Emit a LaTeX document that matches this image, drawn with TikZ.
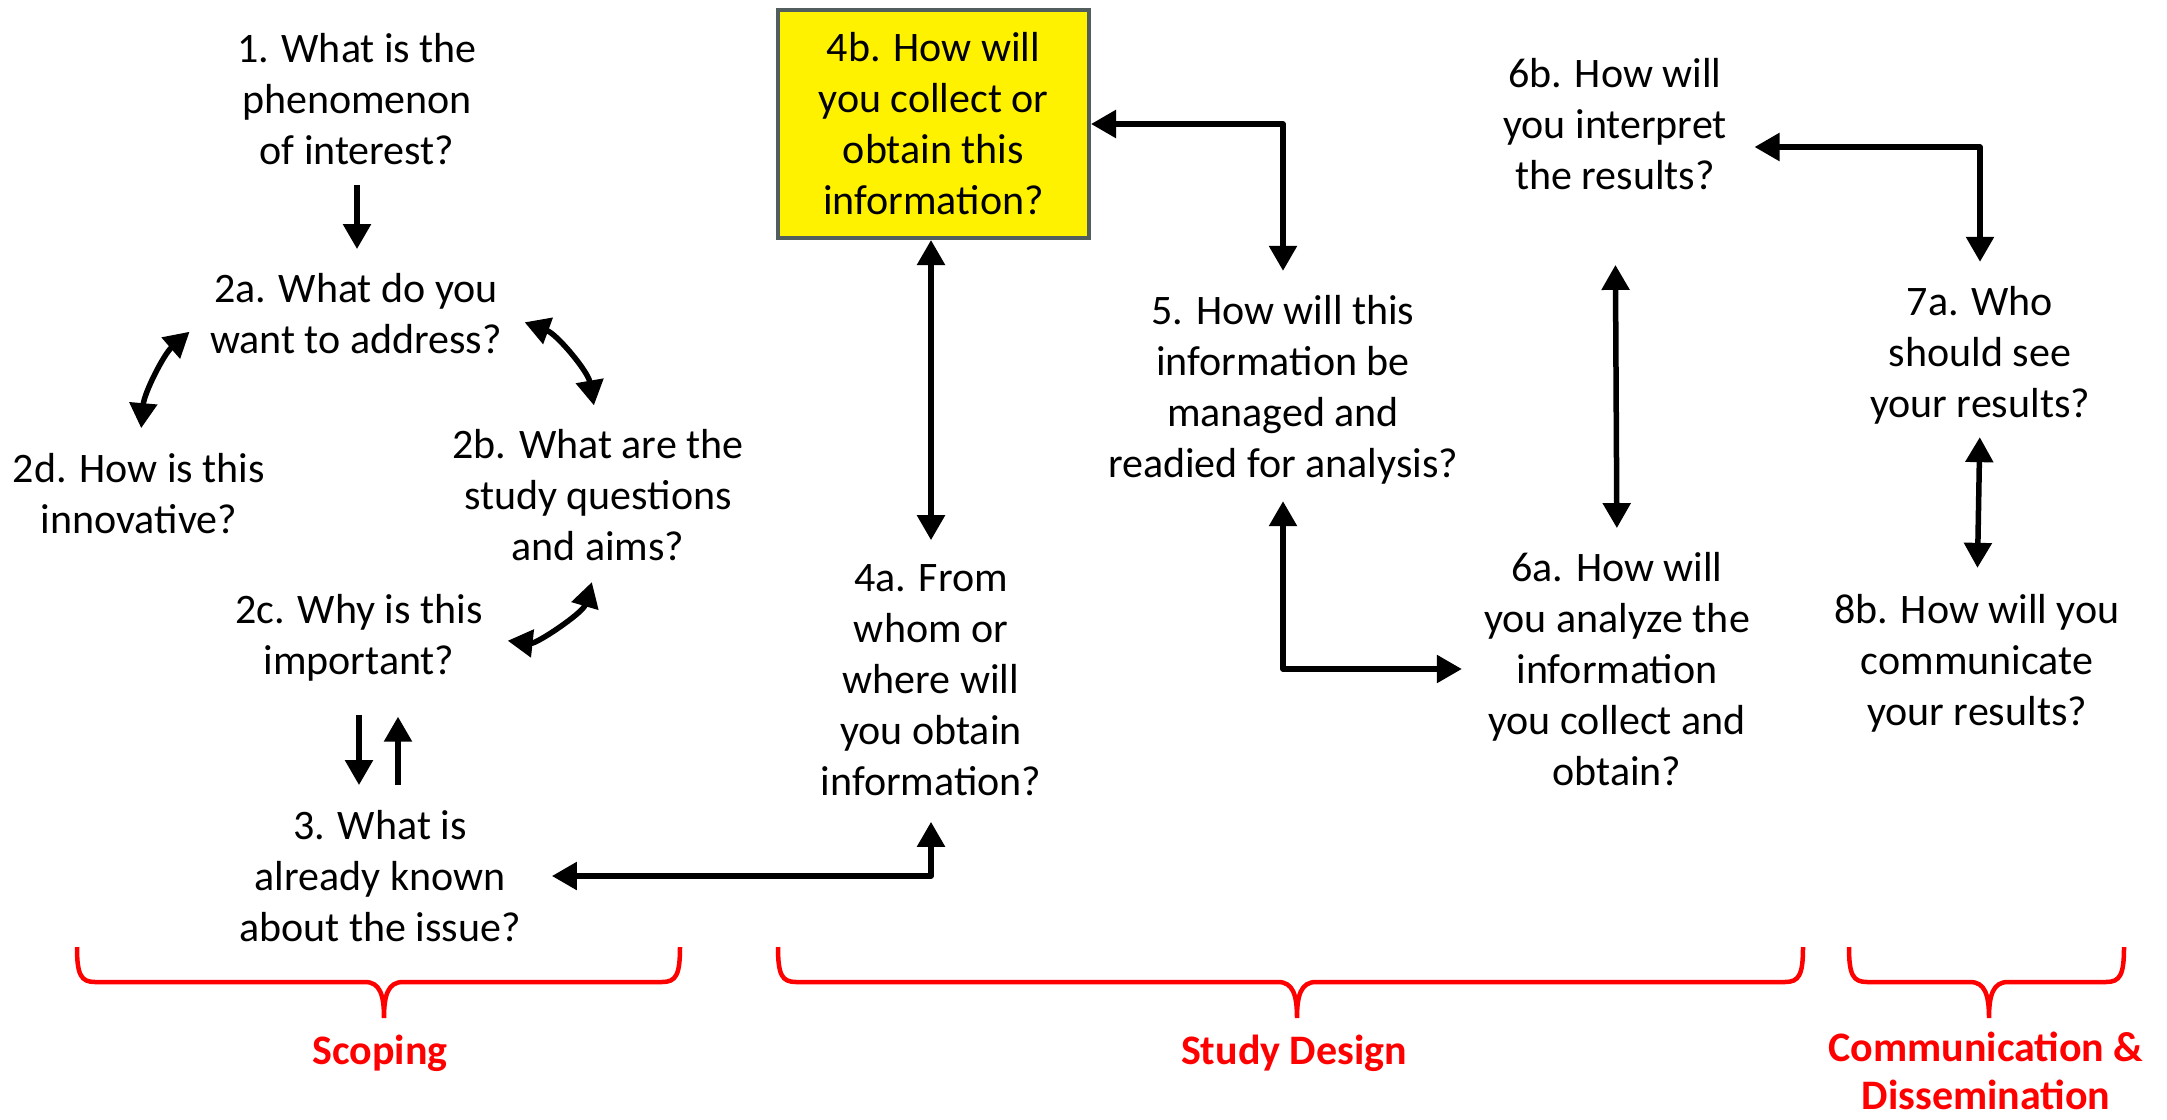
\documentclass[tikz,border=0pt]{standalone}
\usepackage{fontspec}
\setmainfont{Carlito}
\usetikzlibrary{arrows.meta}
\definecolor{boxgray}{RGB}{82,94,94}
\tikzset{
    question/.style={
        align=center,
        inner sep=0pt,
        font=\fontsize{42}{51}\selectfont
    },
    highlight/.style={
        question,
        draw=boxgray,
        fill=yellow,
        line width=4pt,
        minimum width=311pt,
        minimum height=228pt
    },
    link/.style={
        line width=5.5pt,
        line join=round,
        >={Triangle[length=25pt,width=27pt]}
    },
    phase brace/.style={
        red,
        line width=4.5pt
    },
    phase label/.style={
        red,
        align=center,
        inner sep=0pt,
        font=\fontsize{42}{48}\selectfont\bfseries
    }
}

\begin{document}
\begin{tikzpicture}[x=1pt,y=-1pt]
                \useasboundingbox (0,0) rectangle (2167,1119);
                \node[question] (Q1) at (357,99.5) {1. What is the\\phenomenon\\of interest?};
                \node[question] (Q2a) at (356,314) {2a. What do you\\want to address?};
                \node[question] (Q2b) at (598,495) {2b. What are the\\study questions\\and aims?};
                \node[question] (Q2c) at (359,638) {2c. Why is this\\important?};
                \node[question] (Q2d) at (139,494) {2d. How is this\\innovative?};
                \node[question] (Q3) at (380,876) {3. What is\\already known\\about the issue?};
                \node[question] (Q4a) at (931,680) {4a. From\\whom or\\where will\\you obtain\\information?};
                \node[highlight] (Q4b) at (933.5,124) {4b. How will\\you collect or\\obtain this\\information?};
                \node[question] (Q5) at (1283,390) {5. How will this\\information be\\managed and\\readied for analysis?};
                \node[question] (Q6a) at (1617,669) {6a. How will\\you analyze the\\information\\you collect and\\obtain?};
                \node[question] (Q6b) at (1615,124) {6b. How will\\you interpret\\the results?};
                \node[question] (Q7a) at (1980,355) {7a. Who\\should see\\your results?};
                \node[question] (Q8b) at (1977,663) {8b. How will you\\communicate\\your results?};
                \draw[link,->,shorten <=19.5pt,shorten >=24.5pt] (Q1.south) -- (Q1.south |- Q2a.north);
                \draw[link,<->,shorten <=27pt,shorten >=25.5pt] (Q2a.west) to[bend right=22] (Q2d.north);
                \draw[link,<->,shorten <=24pt,shorten >=24pt] (Q2a.east) to[bend left=30] (Q2b.north);
                \draw[link,<->,shorten <=22pt,shorten >=25pt] (Q2b.south) to[bend left=40] (Q2c.east);
                \draw[link,->,shorten <=33pt,shorten >=25pt] (Q2c.south) -- (Q2c.south |- Q3.north);
                \draw[link,->,shorten <=25pt,shorten >=35pt] ([xshift=39pt]Q2c.south |- Q3.north) -- ([xshift=39pt]Q2c.south);
                \draw[link,<->,shorten <=31pt,shorten >=26pt] (Q3.east) -| (Q4a.south);
                \draw[link,<->,shorten <=24pt] (Q4a.north) -- (Q4a.north |- Q4b.south);
                \draw[link,<->,shorten >=24.5pt] (Q4b.east) -| (Q5.north);
                \draw[link,<->,shorten <=16.5pt,shorten >=22pt] (Q5.south) |- (Q6a.west);
                \draw[link,<->,shorten <=75pt,shorten >=24pt] (Q6b.south) -- (Q6a.north);
                \draw[link,<->,shorten <=27.5pt,shorten >=24pt] ([yshift=-23pt]Q6b.east) -| (Q7a.north);
                \draw[link,<->,shorten <=13pt,shorten >=26pt] (Q7a.south) -- (Q8b.north);
                \foreach \xa/\xm/\xb in {77/384/680, 778/1297/1803, 1849/1989/2124} {
                    \draw[phase brace] (\xa,947) .. controls (\xa,975) and (\xa+4,982) .. (\xa+18,982)
                        -- (\xm-19,982) .. controls (\xm-4,982) and (\xm,995) .. (\xm,1018)
                        .. controls (\xm,995) and (\xm+4,982) .. (\xm+19,982)
                        -- (\xb-18,982) .. controls (\xb-4,982) and (\xb,975) .. (\xb,947);
                }
                \node[phase label] (S1) at (380,1053) {Scoping};
                \node[phase label] (S2) at (1294,1053) {Study Design};
                \node[phase label] (S3) at (1986,1071) {Communication \&\\Dissemination};
            \end{tikzpicture}
\end{document}
